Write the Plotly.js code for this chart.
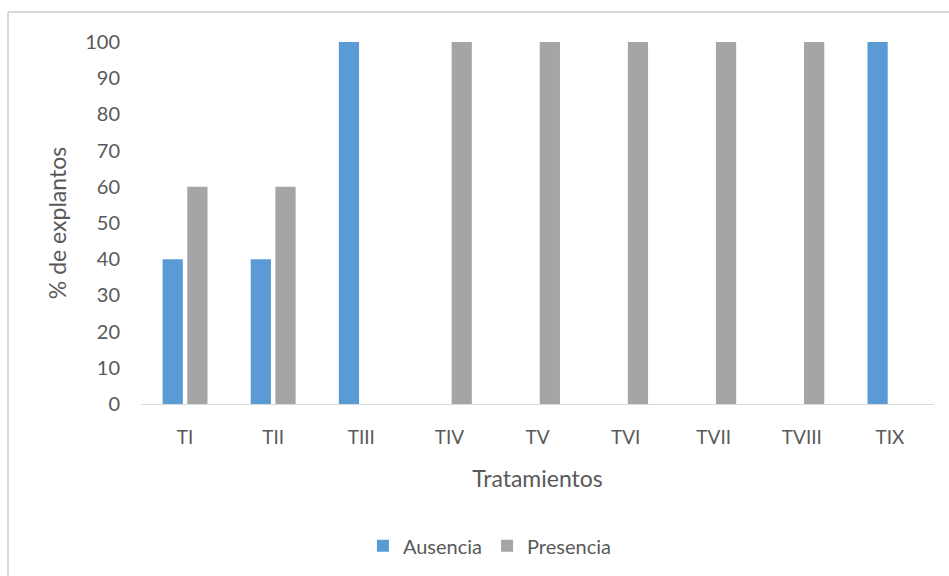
<!DOCTYPE html>
<html><head><meta charset="utf-8">
<script src="https://cdn.plot.ly/plotly-3.0.1.min.js"></script>
<style>html,body{margin:0;padding:0;background:#fff;}#chart{width:949px;height:576px;}</style>
</head><body><div id="chart"></div>
<script>
const categories = ["TI","TII","TIII","TIV","TV","TVI","TVII","TVIII","TIX"];
const ausencia = [40,40,100,0,0,0,0,0,100];
const presencia = [60,60,0,100,100,100,100,100,0];
const yTicks = [0,10,20,30,40,50,60,70,80,90,100];

const font = {family:"Lato, 'Open Sans', sans-serif", color:"#595959", size:20};
const data = [
  {type:"bar", name:"Ausencia", x:categories, y:ausencia, marker:{color:"#5B9BD5"}},
  {type:"bar", name:"Presencia", x:categories, y:presencia, marker:{color:"#A5A5A5"}}
];
const layout = {
  width:949, height:576,
  margin:{l:141,r:15,t:42,b:171},
  paper_bgcolor:"#fff", plot_bgcolor:"#fff",
  font:font,
  barmode:"group", bargap:0.44, bargroupgap:0.18,
  xaxis:{showline:true, linecolor:"#D9D9D9", linewidth:1, ticks:"", showgrid:false, zeroline:false,
         tickfont:{size:19,color:"#595959"}, ticklabelstandoff:16,
         title:{text:"Tratamientos", font:{size:23,color:"#595959"}, standoff:24}},
  yaxis:{range:[0,100], tickvals:yTicks, showgrid:false, zeroline:false, showline:false, ticks:"",
         tickfont:{size:20,color:"#595959"}, ticklabelstandoff:20,
         title:{text:"% de explantos", font:{size:23,color:"#595959"}, standoff:12}},
  legend:{orientation:"h", x:0.44, xanchor:"center", y:-0.388, yanchor:"middle",
          font:{size:20,color:"#595959"}, itemwidth:30},
  showlegend:true,
  shapes:[
    {type:"line", xref:"paper", yref:"paper", x0:-0.1677, x1:1.1, y0:1.0826, y1:1.0826, line:{color:"#D9D9D9", width:2}},
    {type:"line", xref:"paper", yref:"paper", x0:-0.1677, x1:-0.1677, y0:1.0826, y1:-0.7, line:{color:"#D9D9D9", width:2}}
  ]
};
Plotly.newPlot("chart", data, layout, {displayModeBar:false, staticPlot:true});
</script></body></html>
